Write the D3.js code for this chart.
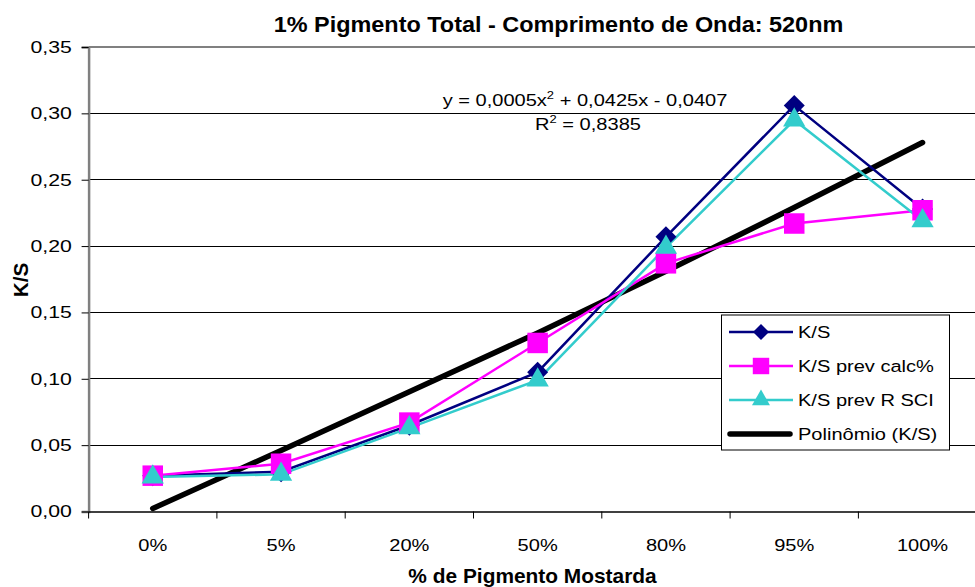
<!DOCTYPE html>
<html><head><meta charset="utf-8">
<script src="https://cdn.jsdelivr.net/npm/d3@7"></script>
<style>body{margin:0;background:#fff}svg{display:block;font-family:"Liberation Sans",Arial,sans-serif}</style>
</head><body><svg id="c" width="975" height="587"></svg>
<script>
const categories = ["0%","5%","20%","50%","80%","95%","100%"];
const ksValues = [0.027,0.030,0.065,0.105,0.207,0.306,0.228];
const calcValues = [0.027,0.036,0.067,0.127,0.187,0.217,0.227];
const rsciValues = [0.026,0.028,0.063,0.099,0.199,0.295,0.219];
const trendValues = [0.0023,0.0460,0.0903,0.1345,0.1810,0.2290,0.2780];
const yTicks = [0,0.05,0.10,0.15,0.20,0.25,0.30,0.35];
const yTickLabels = ["0,00","0,05","0,10","0,15","0,20","0,25","0,30","0,35"];
const seriesNames = ["K/S","K/S prev calc%","K/S prev R SCI","Polinômio (K/S)"];

(function(){
const svg = d3.select("#c");
const pL = 88.6, pR = 986.7, pT = 47, pB = 511.5;
const x = d3.scaleBand().domain(categories).range([pL,pR]);
const y = d3.scaleLinear().domain([0,0.35]).range([pB,pT]);
const cx = c => x(c)+x.bandwidth()/2;
const SX = 1.18;

// stretched text helper
function stext(g, X, Y, str, fs, sx, anchor, bold){
  const t = g.append("text").attr("transform",`translate(${X},${Y}) scale(${sx},1)`)
    .attr("font-size",fs).attr("text-anchor",anchor||"start").attr("fill","#000");
  if(bold) t.attr("font-weight","bold");
  if(str!==null) t.text(str);
  return t;
}

// gridlines
svg.append("g").selectAll("line").data(yTicks.filter(t=>t>0)).join("line")
  .attr("x1",pL).attr("x2",975).attr("y1",d=>y(d)).attr("y2",d=>y(d))
  .attr("stroke",d=>d===0.35?"#808080":"#000").attr("stroke-width",d=>d===0.35?2:1)
  .attr("shape-rendering","crispEdges");

// y axis
const ya = svg.append("g").attr("transform",`translate(${pL},0)`)
  .call(d3.axisLeft(y).tickValues(yTicks).tickFormat((d,i)=>yTickLabels[i]).tickSize(7).tickPadding(10));
ya.select(".domain").attr("stroke","#808080").attr("stroke-width",2.5);
ya.selectAll(".tick line").attr("stroke","#000");
ya.selectAll("text").attr("font-size",17).attr("fill","#000").attr("font-family","Liberation Sans, Arial")
  .attr("x",-16.8/1.25).attr("transform","scale(1.25,1)");

// x axis
const xa = svg.append("g").attr("transform",`translate(0,${pB})`)
  .call(d3.axisBottom(x).tickSize(0).tickFormat(()=>""));
xa.select(".domain").attr("stroke","#000").attr("stroke-width",1.5);
xa.selectAll(".tick text").remove();
const xl = svg.append("g");
categories.forEach(c=>stext(xl, cx(c), 550.5, c, 17, SX, "middle"));
svg.append("g").selectAll("line").data(categories).join("line")
  .attr("x1",d=>x(d)).attr("x2",d=>x(d)).attr("y1",pB).attr("y2",pB+7)
  .attr("stroke","#000");

// trend line
const line = d3.line().x((d,i)=>cx(categories[i])).y(d=>y(d));
svg.append("path").attr("d",line(trendValues)).attr("fill","none")
  .attr("stroke","#000").attr("stroke-width",5.5).attr("stroke-linecap","round");

const series = [
  {vals:ksValues,color:"#000080",sym:d3.symbolSquare,size:220,rot:45},
  {vals:calcValues,color:"#FF00FF",sym:d3.symbolSquare,size:420,rot:0},
  {vals:rsciValues,color:"#33CCCC",sym:d3.symbolTriangle,size:215,rot:0}
];
series.forEach(s=>{
  svg.append("path").attr("d",line(s.vals)).attr("fill","none").attr("stroke",s.color).attr("stroke-width",2.5);
});
series.forEach(s=>{
  svg.append("g").selectAll("path").data(s.vals).join("path")
    .attr("transform",(d,i)=>`translate(${cx(categories[i])},${y(d)}) rotate(${s.rot})`)
    .attr("d",d3.symbol().type(s.sym).size(s.size)).attr("fill",s.color);
});

// equation
const eq = stext(svg, 585, 105.7, null, 17, SX, "middle");
eq.append("tspan").text("y = 0,0005x");
eq.append("tspan").text("2").attr("font-size",11).attr("dy",-7);
eq.append("tspan").text(" + 0,0425x - 0,0407").attr("dy",7);
const r2 = stext(svg, 588, 129.5, null, 17, SX, "middle");
r2.append("tspan").text("R");
r2.append("tspan").text("2").attr("font-size",11).attr("dy",-7);
r2.append("tspan").text(" = 0,8385").attr("dy",7);

// titles
stext(svg, 558.5, 31.5, "1% Pigmento Total - Comprimento de Onda: 520nm", 22, 1.065, "middle", true);
stext(svg, 532.5, 582.5, "% de Pigmento Mostarda", 20, 1.045, "middle", true);
svg.append("text").attr("transform","translate(28,280) rotate(-90) scale(1.04,1)").attr("text-anchor","middle")
  .attr("font-size",20).attr("font-weight","bold").text("K/S");

// legend
const lg = svg.append("g");
lg.append("rect").attr("x",721.5).attr("y",315).attr("width",228).attr("height",135).attr("fill","#fff").attr("stroke","#000").attr("stroke-width",1);
const rows = [
  {name:seriesNames[0],color:"#000080",sym:d3.symbolSquare,size:128,rot:45,w:2.5},
  {name:seriesNames[1],color:"#FF00FF",sym:d3.symbolSquare,size:270,rot:0,w:2.5},
  {name:seriesNames[2],color:"#33CCCC",sym:d3.symbolTriangle,size:140,rot:0,w:2.5},
  {name:seriesNames[3],color:"#000",sym:null,w:5.5}
];
rows.forEach((r,i)=>{
  const yy = 332 + i*34;
  lg.append("line").attr("x1",r.sym?729:730).attr("x2",r.sym?793:790).attr("y1",yy).attr("y2",yy).attr("stroke",r.color).attr("stroke-width",r.w).attr("stroke-linecap",r.sym?"butt":"round");
  if(r.sym) lg.append("path").attr("transform",`translate(761,${yy}) rotate(${r.rot})`).attr("d",d3.symbol().type(r.sym).size(r.size)).attr("fill",r.color);
  stext(lg, 798, yy+6, r.name, 17, SX, "start");
});
})();
</script></body></html>
